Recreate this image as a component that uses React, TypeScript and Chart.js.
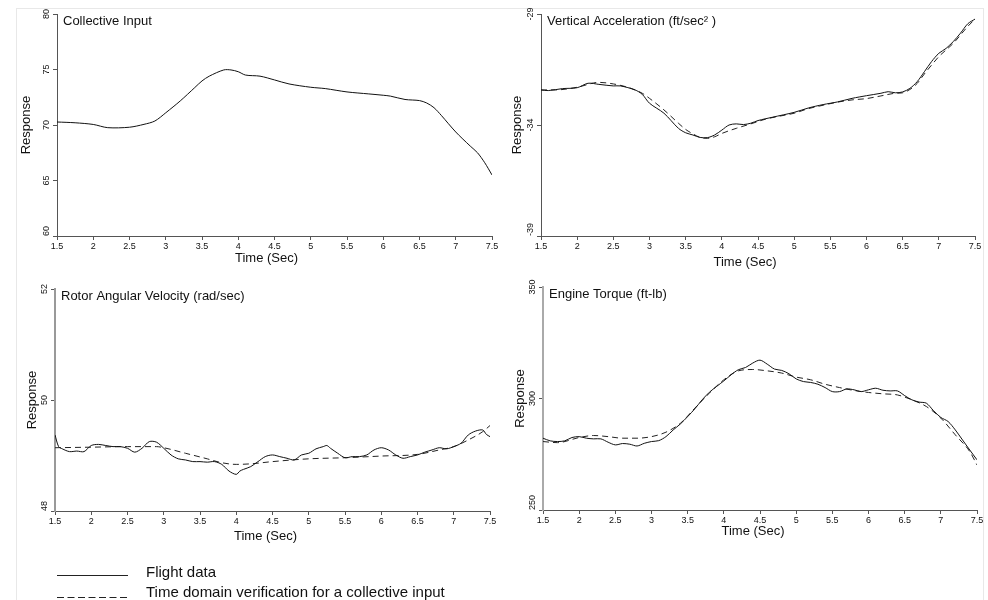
import React, { useEffect, useRef } from "react";
import { Chart, registerables } from "chart.js";

Chart.register(...registerables);

const FONT = '"Liberation Sans", Arial, sans-serif';

// ---- shared axis data ----
const X_TICKS = [1.5, 2, 2.5, 3, 3.5, 4, 4.5, 5, 5.5, 6, 6.5, 7, 7.5];
const X_TICK_LABELS = ["1.5", "2", "2.5", "3", "3.5", "4", "4.5", "5", "5.5", "6", "6.5", "7", "7.5"];

// ---- Panel 1: Collective Input ----
const P1_TIME = [1.5, 1.75, 2.0, 2.2, 2.5, 2.7, 2.85, 3.0, 3.2, 3.4, 3.5, 3.6, 3.8, 3.9, 4.0, 4.1, 4.3, 4.5, 4.7, 5.0, 5.2, 5.5, 5.8, 6.0, 6.1, 6.3, 6.5, 6.6, 6.7, 6.8, 7.0, 7.2, 7.3, 7.4, 7.5];
const P1_FLIGHT = [70.27, 70.2, 70.05, 69.76, 69.8, 70.06, 70.36, 71.1, 72.17, 73.37, 73.97, 74.4, 74.96, 74.96, 74.8, 74.5, 74.4, 74.06, 73.7, 73.4, 73.28, 72.98, 72.8, 72.68, 72.6, 72.3, 72.2, 71.98, 71.56, 70.87, 69.37, 68.1, 67.5, 66.6, 65.5];
const P1_Y_TICKS = [60, 65, 70, 75, 80];
const P1_Y_LABELS = ["60", "65", "70", "75", "80"];

// ---- Panel 2: Vertical Acceleration ----
const P2_TIME = [1.5, 1.6, 1.8, 2.0, 2.15, 2.3, 2.5, 2.6, 2.8, 2.9, 3.0, 3.2, 3.4, 3.5, 3.6, 3.7, 3.8, 3.9, 4.0, 4.1, 4.2, 4.3, 4.4, 4.5, 4.7, 5.0, 5.2, 5.4, 5.6, 5.8, 6.0, 6.2, 6.3, 6.4, 6.5, 6.6, 6.7, 6.8, 6.9, 7.0, 7.1, 7.2, 7.3, 7.4, 7.5];
const P2_FLIGHT = [-32.42, -32.45, -32.36, -32.32, -32.12, -32.17, -32.24, -32.24, -32.42, -32.62, -33.02, -33.47, -34.15, -34.35, -34.45, -34.56, -34.57, -34.45, -34.23, -34.0, -33.95, -33.98, -33.92, -33.8, -33.65, -33.43, -33.23, -33.08, -32.96, -32.8, -32.68, -32.57, -32.5, -32.55, -32.51, -32.35, -32.05, -31.6, -31.14, -30.77, -30.55, -30.24, -29.86, -29.44, -29.23];
const P2_MODEL_TIME = [1.5, 1.7, 2.0, 2.3, 2.5, 2.7, 2.8, 2.9, 3.0, 3.2, 3.4, 3.5, 3.6, 3.7, 3.8, 3.9, 4.0, 4.2, 4.4, 4.6, 4.8, 5.0, 5.2, 5.4, 5.6, 5.8, 6.0, 6.2, 6.4, 6.5, 6.6, 6.7, 6.8, 6.9, 7.0, 7.2, 7.4, 7.5];
const P2_MODEL = [-32.42, -32.42, -32.3, -32.08, -32.15, -32.3, -32.42, -32.57, -32.8, -33.32, -33.92, -34.2, -34.4, -34.56, -34.6, -34.53, -34.38, -34.15, -33.95, -33.74, -33.6, -33.47, -33.26, -33.11, -32.97, -32.87, -32.81, -32.69, -32.57, -32.55, -32.4, -32.13, -31.7, -31.3, -30.92, -30.32, -29.56, -29.23];
const P2_Y_TICKS = [-39, -34, -29];
const P2_Y_LABELS = ["-39", "-34", "-29"];

// ---- Panel 3: Rotor Angular Velocity ----
const P3_TIME = [1.5, 1.55, 1.6, 1.7, 1.8, 1.9, 2.0, 2.1, 2.2, 2.3, 2.4, 2.5, 2.6, 2.7, 2.8, 2.9, 3.0, 3.1, 3.2, 3.3, 3.4, 3.5, 3.6, 3.7, 3.8, 3.9, 4.0, 4.05, 4.1, 4.2, 4.3, 4.4, 4.5, 4.6, 4.7, 4.8, 4.9, 5.0, 5.1, 5.2, 5.25, 5.3, 5.4, 5.5, 5.6, 5.7, 5.8, 5.9, 6.0, 6.1, 6.2, 6.3, 6.4, 6.5, 6.6, 6.7, 6.8, 6.9, 7.0, 7.1, 7.2, 7.3, 7.4, 7.45, 7.5];
const P3_FLIGHT = [49.37, 49.16, 49.12, 49.07, 49.08, 49.07, 49.18, 49.2, 49.18, 49.16, 49.16, 49.13, 49.06, 49.13, 49.25, 49.24, 49.13, 49.01, 48.94, 48.92, 48.89, 48.89, 48.88, 48.89, 48.84, 48.72, 48.66, 48.72, 48.75, 48.8, 48.89, 48.98, 49.01, 48.98, 48.95, 48.92, 49.01, 49.04, 49.12, 49.16, 49.18, 49.13, 49.04, 48.96, 48.98, 48.98, 49.01, 49.1, 49.14, 49.1, 49.01, 48.95, 48.98, 49.01, 49.06, 49.1, 49.14, 49.12, 49.16, 49.22, 49.37, 49.44, 49.46, 49.38, 49.34];
const P3_MODEL_TIME = [1.5, 2.0, 2.5, 2.9, 3.0, 3.3, 3.6, 3.8, 4.0, 4.2, 4.5, 5.0, 5.5, 6.0, 6.5, 6.8, 7.0, 7.2, 7.4, 7.5];
const P3_MODEL = [49.14, 49.15, 49.16, 49.16, 49.14, 49.04, 48.94, 48.87, 48.84, 48.85, 48.89, 48.94, 48.96, 48.99, 49.02, 49.1, 49.16, 49.28, 49.43, 49.54];
const P3_Y_TICKS = [48, 50, 52];
const P3_Y_LABELS = ["48", "50", "52"];

// ---- Panel 4: Engine Torque ----
const P4_TIME = [1.5, 1.6, 1.7, 1.8, 1.9, 2.0, 2.1, 2.2, 2.3, 2.4, 2.5, 2.6, 2.7, 2.8, 2.9, 3.0, 3.1, 3.2, 3.3, 3.4, 3.5, 3.6, 3.7, 3.8, 3.9, 4.0, 4.1, 4.2, 4.3, 4.4, 4.5, 4.6, 4.7, 4.8, 4.9, 5.0, 5.1, 5.2, 5.3, 5.4, 5.5, 5.6, 5.7, 5.8, 5.9, 6.0, 6.1, 6.2, 6.3, 6.4, 6.5, 6.6, 6.7, 6.8, 6.9, 7.0, 7.1, 7.2, 7.3, 7.4, 7.5];
const P4_FLIGHT = [282.2, 281.0, 280.7, 281.0, 282.5, 282.9, 282.2, 281.9, 281.9, 280.4, 279.2, 279.8, 279.5, 278.7, 279.9, 280.7, 281.1, 282.9, 285.9, 288.6, 291.9, 295.4, 299.4, 302.8, 305.4, 307.9, 310.6, 312.9, 313.9, 315.9, 317.2, 315.4, 313.2, 312.6, 311.1, 308.8, 307.6, 307.2, 306.4, 304.9, 303.1, 303.1, 304.3, 303.9, 303.1, 303.9, 304.6, 303.7, 303.4, 303.4, 301.3, 299.4, 298.4, 297.9, 294.5, 291.5, 289.7, 285.9, 281.4, 276.9, 272.5];
const P4_MODEL_TIME = [1.5, 1.7, 2.0, 2.2, 2.4, 2.6, 2.8, 3.0, 3.2, 3.4, 3.6, 3.8, 4.0, 4.2, 4.4, 4.6, 4.8, 5.0, 5.2, 5.4, 5.6, 5.8, 6.0, 6.2, 6.4, 6.6, 6.8, 7.0, 7.2, 7.4, 7.5];
const P4_MODEL = [280.7, 280.2, 282.5, 283.4, 282.9, 282.2, 282.2, 282.9, 284.9, 288.9, 295.7, 302.4, 308.4, 312.4, 313.0, 312.4, 311.4, 309.6, 308.4, 306.4, 304.9, 303.6, 302.7, 302.1, 301.6, 299.4, 296.4, 291.2, 283.7, 276.2, 270.2];
const P4_Y_TICKS = [250, 300, 350];
const P4_Y_LABELS = ["250", "300", "350"];

const LEGEND_LABELS = ["Flight data", "Time domain verification for a collective input"];

const toPoints = (xs: number[], ys: number[]) => xs.map((x, i) => ({ x, y: ys[i] }));

type Panel = {
  title: string;
  time: number[];
  flight: number[];
  modelTime?: number[];
  model?: number[];
  yTicks: number[];
  yLabels: string[];
  canvas: { x: number; y: number; w: number; h: number };
  area: { l: number; t: number; r: number; b: number };
  yTitlePad: number;
  xTitle: { dx: number; dy: number };
  yAxisColor: string;
  yAxisWidth: number;
};

const PANELS: Panel[] = [
  {
    title: "Collective Input",
    time: P1_TIME, flight: P1_FLIGHT,
    yTicks: P1_Y_TICKS, yLabels: P1_Y_LABELS,
    canvas: { x: 0, y: 0, w: 515, h: 275 },
    area: { l: 57, t: 14, r: 492, b: 236 },
    yTitlePad: 19, xTitle: { dx: -8, dy: 22 },
    yAxisColor: "#555", yAxisWidth: 1,
  },
  {
    title: "Vertical Acceleration (ft/sec\u00B2 )",
    time: P2_TIME, flight: P2_FLIGHT, modelTime: P2_MODEL_TIME, model: P2_MODEL,
    yTicks: P2_Y_TICKS, yLabels: P2_Y_LABELS,
    canvas: { x: 494, y: 0, w: 494, h: 275 },
    area: { l: 541, t: 14, r: 975, b: 236 },
    yTitlePad: 16, xTitle: { dx: -13, dy: 26 },
    yAxisColor: "#555", yAxisWidth: 1,
  },
  {
    title: "Rotor Angular Velocity (rad/sec)",
    time: P3_TIME, flight: P3_FLIGHT, modelTime: P3_MODEL_TIME, model: P3_MODEL,
    yTicks: P3_Y_TICKS, yLabels: P3_Y_LABELS,
    canvas: { x: 0, y: 275, w: 515, h: 275 },
    area: { l: 55, t: 289, r: 490, b: 511 },
    yTitlePad: 25, xTitle: { dx: -7, dy: 25 },
    yAxisColor: "#999", yAxisWidth: 2,
  },
  {
    title: "Engine Torque (ft-lb)",
    time: P4_TIME, flight: P4_FLIGHT, modelTime: P4_MODEL_TIME, model: P4_MODEL,
    yTicks: P4_Y_TICKS, yLabels: P4_Y_LABELS,
    canvas: { x: 494, y: 275, w: 494, h: 275 },
    area: { l: 543, t: 287, r: 977, b: 510 },
    yTitlePad: 19, xTitle: { dx: -7, dy: 21 },
    yAxisColor: "#aaa", yAxisWidth: 2,
  },
];

function PanelChart({ p }: { p: Panel }) {
  const ref = useRef<HTMLCanvasElement | null>(null);
  useEffect(() => {
    if (!ref.current) return;
    const { canvas, area } = p;
    const padLeft = 0;
    const padTop = area.t - canvas.y;
    const padRight = canvas.x + canvas.w - area.r;
    const yWidth = area.l - canvas.x;
    const xHeight = canvas.y + canvas.h - area.b;

    const textPlugin = {
      id: "panelText",
      afterDraw(chart: any) {
        const ctx = chart.ctx;
        const ca = chart.chartArea;
        const ys = chart.scales.y;
        ctx.save();
        ctx.fillStyle = "#111";
        // panel title
        ctx.font = `13px ${FONT}`;
        ctx.textAlign = "left";
        ctx.textBaseline = "middle";
        ctx.fillText(p.title, ca.left + 6, ca.top + 7);
        // x axis title
        ctx.textAlign = "center";
        ctx.fillText("Time (Sec)", (ca.left + ca.right) / 2 + p.xTitle.dx, ca.bottom + p.xTitle.dy);
        // rotated y tick labels
        ctx.font = `9px ${FONT}`;
        ys.ticks.forEach((t: any, i: number) => {
          const py = ys.getPixelForValue(t.value);
          ctx.save();
          ctx.translate(ca.left - 10, py);
          ctx.rotate(-Math.PI / 2);
          ctx.textBaseline = "middle";
          ctx.textAlign = i === 0 ? "left" : "center";
          ctx.fillText(p.yLabels[i], 0, 0);
          ctx.restore();
        });
        ctx.restore();
      },
    };

    const datasets: any[] = [
      {
        data: toPoints(p.time, p.flight),
        borderColor: "#111",
        borderWidth: 1,
        pointRadius: 0,
        tension: 0.3,
        fill: false,
      },
    ];
    if (p.model && p.modelTime) {
      datasets.push({
        data: toPoints(p.modelTime, p.model),
        borderColor: "#222",
        borderWidth: 1,
        borderDash: [6, 4],
        pointRadius: 0,
        cubicInterpolationMode: "monotone",
        fill: false,
      });
    }

    const chart = new Chart(ref.current, {
      type: "line",
      data: { datasets },
      options: {
        responsive: false,
        animation: false,
        devicePixelRatio: 1,
        layout: { padding: { left: padLeft, top: padTop, right: padRight, bottom: 0 } },
        plugins: { legend: { display: false }, tooltip: { enabled: false } },
        scales: {
          x: {
            type: "linear",
            min: 1.5,
            max: 7.5,
            afterBuildTicks: (s: any) => {
              s.ticks = X_TICKS.map((v) => ({ value: v }));
            },
            afterFit: (s: any) => {
              s.height = xHeight;
              s.paddingLeft = 0;
              s.paddingRight = 0;
            },
            ticks: {
              autoSkip: false,
              maxRotation: 0,
              minRotation: 0,
              padding: 1,
              color: "#111",
              font: { family: FONT, size: 9 },
              callback: (_v: any, i: number) => X_TICK_LABELS[i],
            },
            grid: { drawOnChartArea: false, drawTicks: true, tickLength: 4, color: "#555" },
            border: { display: true, color: "#555", width: 1 },
          },
          y: {
            type: "linear",
            min: p.yTicks[0],
            max: p.yTicks[p.yTicks.length - 1],
            afterBuildTicks: (s: any) => {
              s.ticks = p.yTicks.map((v) => ({ value: v }));
            },
            afterFit: (s: any) => {
              s.width = yWidth;
              s.paddingTop = 0;
              s.paddingBottom = 0;
            },
            ticks: { display: false },
            title: {
              display: true,
              text: "Response",
              color: "#111",
              font: { family: FONT, size: 13 },
              padding: { top: p.yTitlePad, bottom: 0 },
            },
            grid: { drawOnChartArea: false, drawTicks: true, tickLength: 4, color: "#555" },
            border: { display: true, color: p.yAxisColor, width: p.yAxisWidth },
          },
        },
      } as any,
      plugins: [textPlugin],
    });
    return () => chart.destroy();
  }, [p]);

  return (
    <canvas
      ref={ref}
      width={p.canvas.w}
      height={p.canvas.h}
      style={{
        position: "absolute",
        left: p.canvas.x,
        top: p.canvas.y,
        width: p.canvas.w,
        height: p.canvas.h,
      }}
    />
  );
}

export default function App() {
  return (
    <div
      style={{
        position: "absolute",
        left: 0,
        top: 0,
        width: 988,
        height: 600,
        background: "#fff",
        overflow: "hidden",
        fontFamily: FONT,
      }}
    >
      <div
        style={{
          position: "absolute",
          left: 16,
          top: 8,
          width: 966,
          height: 620,
          borderTop: "1px solid #e8e8e8",
          borderLeft: "1px solid #e8e8e8",
          borderRight: "1px solid #e8e8e8",
        }}
      />
      {PANELS.map((p, i) => (
        <PanelChart key={i} p={p} />
      ))}
      <svg
        width={988}
        height={600}
        style={{ position: "absolute", left: 0, top: 0, pointerEvents: "none" }}
      >
        <line x1={57} y1={575.5} x2={128} y2={575.5} stroke="#222" strokeWidth={1} />
        <line x1={57} y1={597.5} x2={128} y2={597.5} stroke="#222" strokeWidth={1} strokeDasharray="7 3.5" />
        <text x={146} y={577} fontFamily={FONT} fontSize={15} fill="#111">
          {LEGEND_LABELS[0]}
        </text>
        <text x={146} y={597} fontFamily={FONT} fontSize={15} fill="#111">
          {LEGEND_LABELS[1]}
        </text>
      </svg>
    </div>
  );
}
